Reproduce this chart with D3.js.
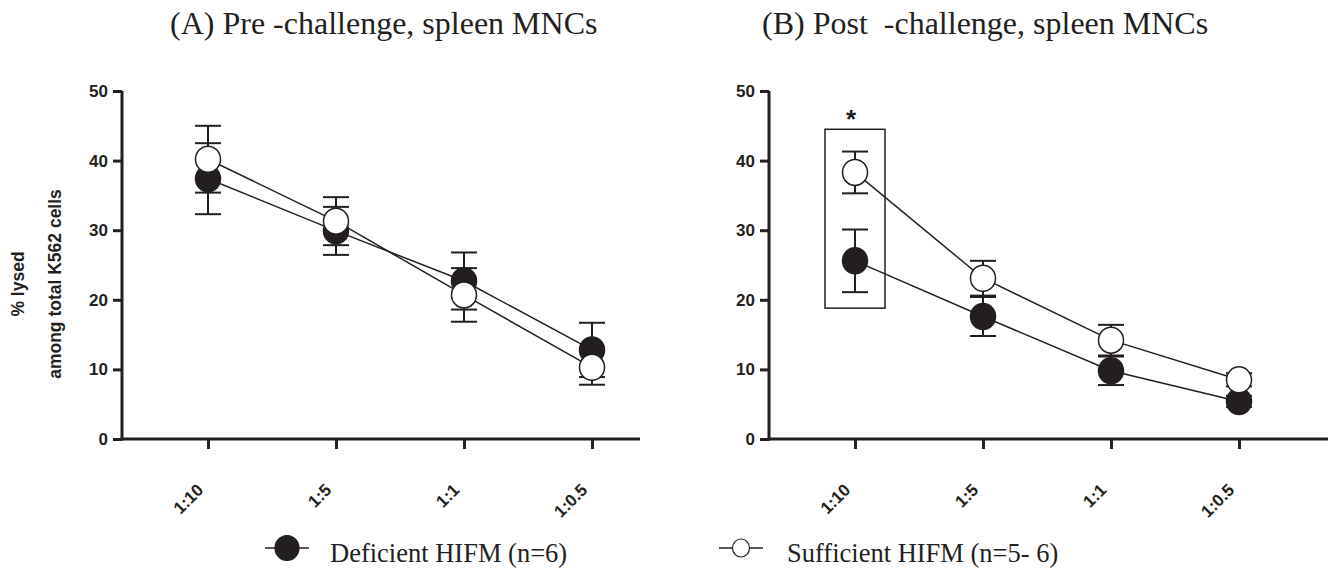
<!DOCTYPE html>
<html lang="en">
<head>
	<meta charset="UTF-8"/>
	<title>Spleen MNC lysis of K562 cells</title>
	<script src="https://d3js.org/d3.v7.min.js"></script>
	<style>
		body { margin: 0; background: #fff; }
		.title, .legend-text { font-family: "Liberation Serif", "Times New Roman", serif; fill: #231f20; }
		.axis text, .ytitle { font-family: "Liberation Sans", Arial, sans-serif; font-weight: bold; fill: #231f20; }
		.axis path, .axis line { stroke: #231f20; stroke-width: 3; }
		.line { fill: none; stroke: #231f20; stroke-width: 1.5; }
		.err { stroke: #231f20; stroke-width: 2; }
	</style>
</head>
<body>
	<div id="chart"></div>
	<script>
	var w = 1328;
	var h = 568;

	// effector : target ratios
	var ratios = ["1:10", "1:5", "1:1", "1:0.5"];
	var yTicks = [0, 10, 20, 30, 40, 50];

	// (A) pre-challenge
	var preDeficient = [37.4, 29.9, 22.7, 12.8];
	var preDeficientErr = [5.1, 3.45, 4.1, 3.9];
	var preSufficient = [40.2, 31.3, 20.7, 10.3];
	var preSufficientErr = [4.8, 3.45, 3.85, 2.5];

	// (B) post-challenge
	var postDeficient = [25.6, 17.6, 9.8, 5.4];
	var postDeficientErr = [4.5, 2.8, 2.05, 0.8];
	var postSufficient = [38.3, 23.1, 14.2, 8.5];
	var postSufficientErr = [3.0, 2.5, 2.2, 0.95];

	// significance box around 1:10 in panel B
	var boxRange = [18.8, 44.5];

	var panels = [
		{ title: "(A) Pre -challenge, spleen MNCs", left: 122, right: 640, tx: 170,
		  def: preDeficient, defErr: preDeficientErr, suf: preSufficient, sufErr: preSufficientErr, box: false },
		{ title: "(B) Post  -challenge, spleen MNCs", left: 769, right: 1328, tx: 762,
		  def: postDeficient, defErr: postDeficientErr, suf: postSufficient, sufErr: postSufficientErr, box: true }
	];

	var svg = d3.select("#chart")
				.append("svg")
				.attr("width", w)
				.attr("height", h);

	var yScale = d3.scaleLinear()
					.domain([0, 50])
					.range([439, 91]);

	panels.forEach(function(p) {
		var xScale = d3.scalePoint()
						.domain(ratios)
						.range([p.left + 86, p.left + 470]);

		svg.append("text")
			.attr("class", "title")
			.attr("x", p.tx)
			.attr("y", 34)
			.attr("font-size", 32)
			.style("white-space", "pre")
			.text(p.title);

		// axes
		var yAxis = d3.axisLeft(yScale).tickValues(yTicks).tickSize(9).tickPadding(5);
		var gy = svg.append("g")
			.attr("class", "axis")
			.attr("transform", "translate(" + p.left + ",0)")
			.call(yAxis);
		gy.attr("font-size", 17);
		gy.select(".domain").attr("d", "M0," + yScale(50) + "V" + (yScale(0) + 1.5));

		var xAxis = d3.axisBottom(xScale).tickSize(10).tickSizeOuter(0);
		var gx = svg.append("g")
			.attr("class", "axis")
			.attr("transform", "translate(0," + yScale(0) + ")")
			.call(xAxis);
		gx.attr("font-size", 17);
		gx.select(".domain").attr("d", "M" + (p.left - 1.5) + ",0H" + p.right);
		gx.selectAll("text")
			.attr("text-anchor", "end")
			.attr("transform", "translate(-4,52) rotate(-45)")
			.attr("dy", "0")
			.attr("y", 0);

		if (p.box) {
			var bx = xScale(ratios[0]);
			svg.append("rect")
				.attr("x", bx - 30)
				.attr("y", yScale(boxRange[1]))
				.attr("width", 60)
				.attr("height", yScale(boxRange[0]) - yScale(boxRange[1]))
				.attr("fill", "none")
				.attr("stroke", "#231f20")
				.attr("stroke-width", 1.5);
			svg.append("text")
				.attr("x", bx - 4)
				.attr("y", yScale(boxRange[1]) - 1)
				.attr("text-anchor", "middle")
				.attr("font-family", "Liberation Sans, Arial, sans-serif")
				.attr("font-weight", "bold")
				.attr("font-size", 26)
				.attr("fill", "#231f20")
				.text("*");
		}

		var series = [
			{ vals: p.def, err: p.defErr, fill: "#231f20" },
			{ vals: p.suf, err: p.sufErr, fill: "#fff" }
		];

		var line = d3.line()
			.x(function(d, i) { return xScale(ratios[i]); })
			.y(function(d) { return yScale(d); });

		series.forEach(function(s) {
			svg.append("path")
				.datum(s.vals)
				.attr("class", "line")
				.attr("d", line);
		});

		series.forEach(function(s) {
			var g = svg.append("g");
			s.vals.forEach(function(v, i) {
				var x = xScale(ratios[i]);
				var hi = yScale(v + s.err[i]), lo = yScale(v - s.err[i]);
				g.append("line").attr("class", "err")
					.attr("x1", x).attr("x2", x).attr("y1", hi).attr("y2", lo);
				g.append("line").attr("class", "err")
					.attr("x1", x - 13).attr("x2", x + 13).attr("y1", hi).attr("y2", hi);
				g.append("line").attr("class", "err")
					.attr("x1", x - 13).attr("x2", x + 13).attr("y1", lo).attr("y2", lo);
			});
		});

		series.forEach(function(s) {
			svg.append("g")
				.selectAll("ellipse")
				.data(s.vals)
				.enter()
				.append("ellipse")
				.attr("cx", function(d, i) { return xScale(ratios[i]); })
				.attr("cy", function(d) { return yScale(d); })
				.attr("rx", 12.5)
				.attr("ry", 13)
				.attr("fill", s.fill)
				.attr("stroke", "#231f20")
				.attr("stroke-width", 1.5);
		});
	});

	// y axis title
	var yt = svg.append("text")
		.attr("class", "ytitle")
		.attr("transform", "translate(24,284) rotate(-90)")
		.attr("text-anchor", "middle")
		.attr("font-size", 17.5);
	yt.append("tspan").attr("x", 0).attr("y", 0).text("% lysed");
	yt.append("tspan").attr("x", 0).attr("y", 37).text("among total K562 cells");

	// legend
	var legend = [
		{ label: "Deficient HIFM (n=6)", fill: "#231f20", r: 12, cx: 287, tx: 330 },
		{ label: "Sufficient HIFM (n=5- 6)", fill: "#fff", r: 8.5, cx: 741, tx: 787 }
	];
	legend.forEach(function(l) {
		svg.append("line")
			.attr("x1", l.cx - 22).attr("x2", l.cx + 22)
			.attr("y1", 548).attr("y2", 548)
			.attr("stroke", "#231f20").attr("stroke-width", 1.5);
		svg.append("ellipse")
			.attr("cx", l.cx).attr("cy", 548)
			.attr("rx", l.r).attr("ry", l.r + 0.5)
			.attr("fill", l.fill)
			.attr("stroke", "#231f20").attr("stroke-width", 1.2);
		svg.append("text")
			.attr("class", "legend-text")
			.attr("x", l.tx).attr("y", 562)
			.attr("font-size", 26.5)
			.style("white-space", "pre")
			.text(l.label);
	});
	</script>
</body>
</html>
